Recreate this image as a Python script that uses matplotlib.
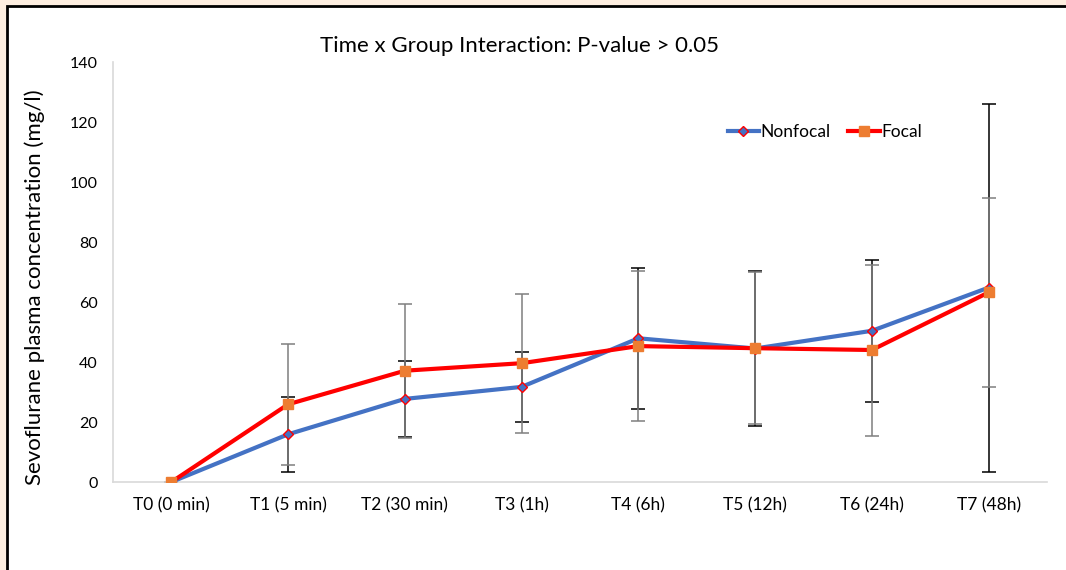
import numpy as np
import matplotlib.pyplot as plt
from matplotlib.patches import Rectangle

plt.rcParams['font.family'] = ['Lato', 'DejaVu Sans']

labels = ['T0 (0 min)', 'T1 (5 min)', 'T2 (30 min)', 'T3 (1h)',
          'T4 (6h)', 'T5 (12h)', 'T6 (24h)', 'T7 (48h)']
nonfocal = [0, 15.9, 27.7, 31.7, 47.9, 44.5, 50.4, 64.8]
nonfocal_sd = [0, 12.6, 12.7, 11.6, 23.5, 25.7, 23.6, 61.3]
focal = [0, 25.9, 37.1, 39.6, 45.3, 44.6, 44.0, 63.2]
focal_sd = [0, 20.2, 22.3, 23.2, 24.9, 25.3, 28.5, 31.4]

W, H = 1066, 570
fig = plt.figure(figsize=(W / 100, H / 100), dpi=100)
fig.patch.set_facecolor('#fdeee0')
# white chart area with black frame, running off the right/bottom edge
fig.patches.append(Rectangle((7 / W, -0.05), 1.05, 1 - 6 / H + 0.05,
                             transform=fig.transFigure, facecolor='white',
                             edgecolor='black', linewidth=2, zorder=-5))

ax = fig.add_axes([113 / W, 88 / H, 934 / W, 420 / H])
ax.set_zorder(2)
ax.patch.set_alpha(0)
x = np.arange(len(labels)) + 0.5

ax.errorbar(x, nonfocal, yerr=nonfocal_sd, fmt='none', ecolor='black',
            elinewidth=1.1, capsize=5, capthick=1.1, zorder=2)
ax.errorbar(x, focal, yerr=focal_sd, fmt='none', ecolor='#7f7f7f',
            elinewidth=1.1, capsize=5, capthick=1.1, zorder=2)
ax.plot(x, nonfocal, color='#4472c4', lw=3, marker='D', ms=5,
        mfc='#4472c4', mec='red', mew=1, label='Nonfocal', zorder=3)
ax.plot(x, focal, color='red', lw=3, marker='s', ms=7,
        mfc='#ed7d31', mec='#ed7d31', label='Focal', zorder=4)

ax.set_xlim(0, 8)
ax.set_ylim(0, 140)
ax.set_yticks(np.arange(0, 141, 20))
ax.set_xticks(x)
ax.set_xticklabels(labels)
ax.tick_params(length=0, labelsize=12.5, colors='black', pad=11)
ax.tick_params(axis='y', labelsize=11.5, pad=11)
for s in ['top', 'right']:
    ax.spines[s].set_visible(False)
for s in ['left', 'bottom']:
    ax.spines[s].set_color('#d9d9d9')
    ax.spines[s].set_linewidth(1.2)

ax.set_ylabel('Sevoflurane plasma concentration (mg/l)', fontsize=16)
ax.yaxis.set_label_coords(-0.073, 0.464)
fig.text(520 / W, 1 - 46 / H, 'Time x Group Interaction: P-value > 0.05',
         ha='center', va='center', fontsize=16)

ax.legend(loc='center left', bbox_to_anchor=(0.649, 0.833), ncol=2,
          frameon=False, fontsize=12.5, handlelength=1.8, handletextpad=0.1,
          columnspacing=1.0, borderpad=0)

plt.savefig('out.png', dpi=100, facecolor=fig.get_facecolor())
